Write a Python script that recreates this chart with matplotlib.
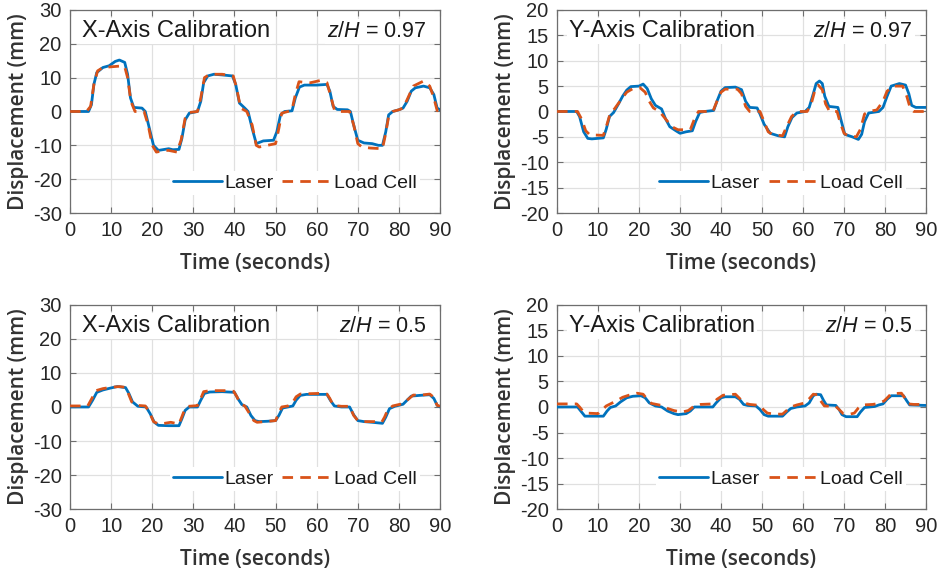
import numpy as np
import matplotlib
matplotlib.use("Agg")
import matplotlib.pyplot as plt

plt.rcParams['font.family'] = ['Liberation Sans', 'DejaVu Sans']
plt.rcParams['mathtext.fontset'] = 'custom'
plt.rcParams['mathtext.it'] = 'Liberation Sans:italic'
plt.rcParams['mathtext.rm'] = 'Liberation Sans'
plt.rcParams['axes.unicode_minus'] = False

# (time s, displacement mm) traces read per panel
x97_laser = [(0, 0), (4.5, 0), (5.2, 2), (5.8, 8), (6.5, 11.5), (8, 13), (9.5, 13.5), (11, 14.8), (12, 15.2),
             (13.3, 14.5), (14, 11), (14.7, 4), (15.5, 1.2), (17.5, 1), (18.3, 0), (19.3, -5), (20.3, -10),
             (21.5, -11.5), (23, -11.2), (24, -11), (25, -11.3), (26.5, -11.2), (27.2, -8), (28, -2.5),
             (29, -0.5), (31, 0), (31.8, 3), (32.5, 8.5), (33.5, 10.5), (35, 11), (37, 10.8), (39.5, 10.5),
             (40.3, 8), (41.2, 2.5), (42.5, 1), (43.3, 0), (44.3, -5), (45.3, -9.5), (47, -8.7), (49.5, -8.5),
             (50.3, -6), (51.2, -1), (52.2, 0), (54, 0.2), (54.8, 4), (55.8, 7.2), (57, 7.8), (60, 7.8),
             (62.5, 8), (63.2, 6), (64, 1.5), (65, 0.6), (67.5, 0.5), (68.2, 0), (69, -4), (70, -8.5),
             (71.5, -9.3), (73.5, -9.5), (75, -10), (76, -10), (76.8, -6), (77.5, -1), (78.5, 0), (80, 0.5),
             (81, 1), (82, 3), (83, 6), (84, 7), (86, 7.5), (87.5, 7), (88.5, 5), (89.3, 1), (90, 0.5)]
x97_load = [(0, 0), (4, 0), (5, 1.5), (5.8, 8), (6.7, 12), (8, 13), (10, 13.2), (12, 13.4), (13.3, 13.2),
            (14, 10), (14.8, 3), (15.8, 0), (18, 0), (19, -4), (20, -10), (21, -12), (23, -11.5), (24, -11.5),
            (26, -12), (27, -8.5), (28, -2), (29, -0.3), (31, 0), (31.8, 4), (32.7, 10), (34, 11), (37, 11),
            (39.7, 10.5), (40.5, 7), (41.5, 1), (43, 0), (44.3, -4), (45.3, -10), (46, -10.5), (48, -10),
            (50, -9.5), (50.8, -5), (51.5, -0.5), (53, 0), (54, 0.5), (54.8, 5), (55.7, 8.8), (57, 8.6),
            (58.5, 8.5), (61, 9.2), (62.5, 8.5), (63.3, 5), (64.3, 0.5), (65, 0), (68, 0), (69, -4), (70, -9.5),
            (71, -10.5), (73, -10.8), (76, -11), (76.7, -7), (77.5, -1.5), (78.5, 0), (80, 0.5), (81, 1),
            (82, 3.5), (83.5, 7.5), (86, 9), (87.5, 7.5), (88.5, 4), (89.3, 0.3), (90, 0)]

y97_laser = [(0, 0), (4.8, 0), (5.5, -1), (6.5, -4), (7.5, -5.3), (8.5, -5.4), (11.3, -5.2), (12, -3.5),
             (12.8, -1), (13.8, -0.2), (15, 1.5), (16, 3), (17, 4.2), (18, 4.9), (20, 5), (21, 5.4), (22, 4.5),
             (23, 2.5), (24, 1.2), (25.5, 0.5), (26.5, -1.5), (27.5, -3), (29, -3.8), (30, -4.3), (31.5, -4),
             (33, -3.8), (33.8, -2), (34.8, -0.2), (36, 0), (38.2, 0.2), (39, 2), (40, 4), (41, 4.7),
             (43.5, 4.8), (45, 4.3), (46, 2), (47, 0.8), (48.8, 0.7), (49.5, -0.5), (50.5, -2.5), (52, -4.3),
             (54, -4.8), (55.5, -5), (56.3, -3), (57.3, -1.2), (58.5, -0.3), (60.5, 0), (61.5, 0.8),
             (62.5, 3.5), (63.2, 5.5), (64, 6), (64.7, 5.5), (65.3, 3), (66.3, 1), (68.5, 0.8), (69.2, -1.5),
             (70.2, -4.5), (72, -5), (73.5, -5.5), (74.3, -4.5), (75, -2), (76, -0.3), (78.5, 0), (79.5, 0.8),
             (80.5, 3), (81.5, 5), (83.5, 5.5), (85, 5.2), (85.8, 3.5), (86.5, 1.2), (87.5, 0.8), (90, 0.8)]
y97_load = [(0, 0), (5, 0), (6, -1.5), (7, -3.8), (8, -4.6), (11.3, -4.7), (12.2, -2.5), (13, -0.3), (14, 0.5),
            (15.5, 2.2), (17, 3.8), (18.5, 4.5), (20.2, 4.7), (21.5, 3.8), (22.5, 2), (23.5, 0.7), (25, 0),
            (26.5, -1.5), (28, -3), (29.5, -3.6), (32.5, -3.6), (33.5, -1.5), (34.5, 0), (38, 0), (39, 2),
            (40, 3.8), (41, 4.4), (44, 4.4), (45, 3.5), (46, 1), (47, 0), (49.5, 0), (50.5, -2), (51.5, -4),
            (52.5, -4.5), (55, -4.8), (56, -3), (57.2, -1), (58.5, 0), (61, 0), (62, 1.5), (63, 4.5),
            (63.7, 5.2), (64.7, 4.3), (65.5, 1.5), (66.5, 0), (68.3, 0), (69, -2), (70, -4.3), (71, -4.8),
            (73, -5), (74, -3.5), (75, -0.5), (76, 0), (78, 0.3), (79.5, 2), (80.5, 4), (82, 5), (84.3, 5),
            (85.3, 3), (86.2, 0.5), (87, 0), (90, 0)]

x50_laser = [(0, 0), (4.5, 0), (5.5, 2), (6.5, 4.3), (8, 5), (10, 5.6), (11.5, 6), (13.5, 5.7), (14.3, 4),
             (15.2, 1.5), (16.5, 0.2), (18.5, 0), (19.5, -2), (20.5, -4.5), (21.5, -5.4), (24, -5.5),
             (26.5, -5.5), (27.2, -3.5), (28, -1), (29, 0), (31, 0), (31.8, 2), (32.7, 4), (34, 4.4), (37, 4.5),
             (40, 4.3), (40.8, 2.5), (41.8, 0.7), (43, 0), (44, -2.5), (45, -4), (46, -4.3), (48, -4.2),
             (50, -4), (50.8, -2.5), (51.7, -0.3), (53, 0), (54.2, 0.3), (55, 2), (56, 3.4), (57.5, 3.7),
             (62.5, 3.7), (63.3, 2), (64.3, 0.3), (66, 0), (68, 0), (69, -2.3), (70, -4), (71.5, -4.3),
             (73.5, -4.5), (76, -4.8), (76.8, -3), (77.7, -0.5), (79, 0.2), (81, 0.8), (82, 2), (83, 3.2),
             (85, 3.4), (87.5, 3.6), (88.5, 2.5), (89.3, 0.5), (90, 0)]
x50_load = [(0, 0.3), (4.3, 0.3), (5.3, 2.5), (6.3, 4.8), (8, 5.4), (10, 5.8), (12, 6), (13.3, 5.8), (14, 4.5),
            (15, 1.5), (16, 0.5), (18.3, 0.3), (19.3, -1.5), (20.3, -4.3), (21.5, -5), (23, -4.8), (24.5, -4.5),
            (26.5, -5), (27, -3.5), (27.8, -1), (28.8, 0.2), (31, 0.4), (31.8, 2.5), (32.5, 4.5), (34, 4.8),
            (38, 4.8), (39.8, 4.6), (40.6, 3), (41.4, 1), (42.5, 0.3), (43.7, -2), (44.7, -4), (45.5, -4.5),
            (47.5, -4.3), (50, -4), (50.7, -2), (51.5, 0), (53, 0.3), (54, 1), (55, 3), (56, 3.8), (58, 3.9),
            (61, 4), (62.5, 3.8), (63.2, 2.5), (64, 0.5), (66, 0.2), (68, 0.2), (69, -2.5), (70, -4),
            (71.5, -4.3), (74, -4.3), (75.8, -4.5), (76.5, -3), (77.3, -0.8), (78.5, 0.3), (81, 1), (82.5, 2.5),
            (83.5, 3.5), (85.5, 3.5), (87.5, 3.8), (88.5, 2.8), (89.3, 0.5), (90, 0.2)]

y50_laser = [(0, 0), (5, 0), (5.8, -0.8), (6.8, -1.8), (8, -1.8), (11.3, -1.8), (12.2, -0.8), (13, -0.1),
             (14.3, 0.2), (15.5, 1), (17, 1.8), (18.5, 2.1), (20.5, 2.2), (21.5, 1.8), (22.5, 0.8), (24, 0.2),
             (25.5, 0), (27, -0.8), (28.5, -1.3), (29.5, -1.5), (31.5, -1.3), (32.5, -0.8), (33.5, 0), (38, 0),
             (38.8, 0.8), (40, 1.8), (41, 2), (43.5, 2), (44.5, 1.5), (45.5, 0.5), (46.5, 0.3), (48.5, 0.2),
             (49.5, -0.5), (50.5, -1.5), (51.5, -1.8), (55, -1.8), (56, -1), (57, -0.3), (58.5, 0), (60.5, 0.2),
             (61.5, 0.8), (62.5, 2.2), (63.2, 2.5), (64.3, 2.4), (65, 1.3), (65.7, 0.4), (68, 0.3),
             (68.8, -0.5), (69.5, -1.5), (70.5, -1.9), (73.2, -1.9), (74, -1), (75, -0.1), (77.5, 0.1),
             (78.5, 0.4), (79.5, 0.6), (80.5, 1.5), (81.5, 2.2), (84.5, 2.2), (85.3, 1.2), (86, 0.4), (90, 0.3)]
y50_load = [(0, 0.6), (4.8, 0.6), (5.5, 0), (6.3, -0.8), (7.3, -1.2), (10, -1.3), (11, -0.6), (12, 0.2),
            (13, 0.6), (14.5, 1.2), (16, 1.9), (17.5, 2.3), (19.5, 2.7), (21, 2.5), (22, 1.5), (23, 0.7),
            (25.5, 0.3), (27, -0.3), (28.5, -0.7), (30.5, -1), (32, -0.7), (33.5, 0.2), (35, 0.5), (38, 0.6),
            (39, 1.5), (40.5, 2.3), (43.5, 2.5), (44.5, 1.7), (45.5, 0.8), (47, 0.5), (49.5, 0.3), (50.3, -0.5),
            (51.3, -1.2), (53, -1.4), (55, -1.4), (56, -0.7), (57, 0), (58.5, 0.4), (60.5, 0.8), (61.5, 1.6),
            (62.5, 2.5), (63.5, 2.4), (64.3, 1.2), (65.2, 0.2), (68, 0.1), (68.8, -0.5), (69.8, -1.3),
            (71.5, -1.4), (72.5, -1.2), (73.5, -0.2), (74.5, 0.4), (77, 0.5), (78.5, 0.7), (79.8, 1.2),
            (80.8, 2), (81.5, 2.6), (84, 2.7), (84.8, 1.8), (85.7, 0.6), (87, 0.5), (90, 0.5)]

panels = [
    # (axes rect, title, z/H, laser, load cell, y-limits, y-step)
    ([0.0746, 0.6276, 0.394, 0.355], 'X-Axis Calibration', '0.97', x97_laser, x97_load, (-30, 30), 10),
    ([0.5932, 0.6276, 0.393, 0.355], 'Y-Axis Calibration', '0.97', y97_laser, y97_load, (-20, 20), 5),
    ([0.0746, 0.1100, 0.394, 0.357], 'X-Axis Calibration', '0.5', x50_laser, x50_load, (-30, 30), 10),
    ([0.5932, 0.1100, 0.393, 0.357], 'Y-Axis Calibration', '0.5', y50_laser, y50_load, (-20, 20), 5),
]

blue = '#0072BD'
orange = '#D95319'
spine_col = '#6e6e6e'
text_col = '#262626'

fig = plt.figure(figsize=(9.39, 5.72), dpi=100)

for rect, title, zh, laser, load, ylim, ystep in panels:
    ax = fig.add_axes(rect)
    lt, ld = np.array(laser).T
    ct, cd = np.array(load).T
    ax.plot(lt, ld, color=blue, lw=2.0, label='Laser', zorder=3,
            solid_joinstyle='round', solid_capstyle='round')
    ax.plot(ct, cd, color=orange, lw=2.0, ls=(0, (3.8, 2.6)), label='Load Cell', zorder=4,
            dash_joinstyle='round')

    ax.set_xlim(0, 90)
    ax.set_ylim(*ylim)
    ax.set_xticks(np.arange(0, 91, 10))
    ax.set_yticks(np.arange(ylim[0], ylim[1] + 1, ystep))
    ax.grid(True, color='#e0e0e0', lw=0.9, zorder=0)
    ax.set_axisbelow(True)
    for s in ax.spines.values():
        s.set_color(spine_col)
        s.set_linewidth(0.9)
    ax.tick_params(direction='in', top=True, right=True, length=4, width=0.8,
                   color=spine_col, labelsize=14.5, labelcolor=text_col, pad=6)

    ax.set_xlabel('Time (seconds)', family='Open Sans', weight='semibold', fontsize=15,
                  color='#333333', labelpad=9)
    ax.set_ylabel('Displacement (mm)', family='Open Sans', weight='semibold', fontsize=15,
                  color='#333333', labelpad=3)

    box = dict(facecolor='white', edgecolor='none', pad=1.5)
    ax.text(0.032, 0.895, title, transform=ax.transAxes, fontsize=17, color='#1a1a1a',
            ha='left', va='center', bbox=box, zorder=5)
    ax.text(0.965, 0.895, r'$z/H$ = ' + zh, transform=ax.transAxes, fontsize=15.5, color='#1a1a1a',
            ha='right', va='center', bbox=box, zorder=5)

    leg = ax.legend(loc='center right', bbox_to_anchor=(0.945, 0.148), ncol=2, fontsize=14,
                    frameon=True, facecolor='white', edgecolor='none', framealpha=1,
                    handlelength=2.5, handletextpad=0.15, columnspacing=0.45,
                    borderpad=0.15, borderaxespad=0)
    leg.set_zorder(5)
    for t in leg.get_texts():
        t.set_color('#1a1a1a')

fig.savefig('out.png', dpi=100)
